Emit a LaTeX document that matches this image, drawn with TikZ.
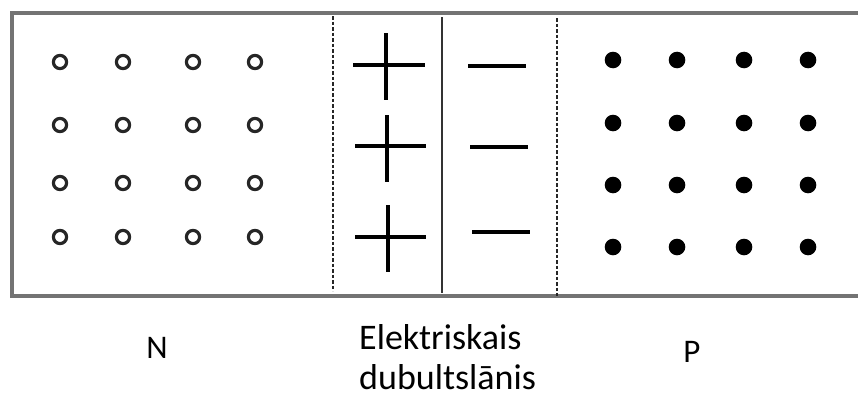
\documentclass[tikz,border=0pt]{standalone}
\usepackage{fontspec}
\setmainfont{Carlito}
\usetikzlibrary{positioning}

\tikzset{
    frame/.style={line width=3.2pt, draw=black!55},
    border/.style={line width=2.6pt, dash pattern=on 3.5pt off 2pt, draw=black!85},
    junction/.style={line width=2.6pt, draw=black!80},
    plusbar/.style={line width=3.4pt, line cap=butt},
    minusbar/.style={line width=4.2pt},
    hole/.style={line width=3.2pt, draw=black!85},
    ion/.style={fill=black},
    label/.style={font=\fontsize{33}{36}\selectfont, inner sep=0pt},
    caption/.style={font=\fontsize{36}{40}\selectfont, inner sep=0pt}
}

\begin{document}
\begin{tikzpicture}[x=1pt, y=-1pt]
    \useasboundingbox (0,0) rectangle (858,399);

    % Frame (open on the right)
    \draw[frame] (860,13) -- (12,13) -- (12,296) -- (860,296);

    % Boundaries
    \draw[border] (333,16) -- (333,291);
    \draw[border] (557,18) -- (557,296);
    \draw[junction] (442,17) -- (442,293);

    % N side
    \foreach \x in {60,123,193,255}
        \foreach \y in {62,125,183,237}
            \draw[hole] (\x,\y) circle (6.6);

    % P side
    \foreach \x in {613,677,744,808}
        \foreach \y in {60,123,185,247}
            \fill[ion] (\x,\y) circle (8.3);

    % Charges
    \draw[plusbar] (386,33) -- (386,100);
    \draw[plusbar] (353,65) -- (425,65);
    \draw[plusbar] (387,115) -- (387,182);
    \draw[plusbar] (355,146) -- (426,146);
    \draw[plusbar] (388,205) -- (388,272);
    \draw[plusbar] (355,237) -- (426,237);
    \draw[minusbar] (468,66) -- (526,66);
    \draw[minusbar] (470,147) -- (528,147);
    \draw[minusbar] (472,232) -- (530,232);

    % Labels
    \node[label, anchor=base] (nside) at (157,358) {N};
    \node[label, anchor=base] (pside) at (692,362) {P};
    \node[caption, anchor=base west, align=left] (layer) at (359,389) {Elektriskais\\dubultslānis};
\end{tikzpicture}
\end{document}
